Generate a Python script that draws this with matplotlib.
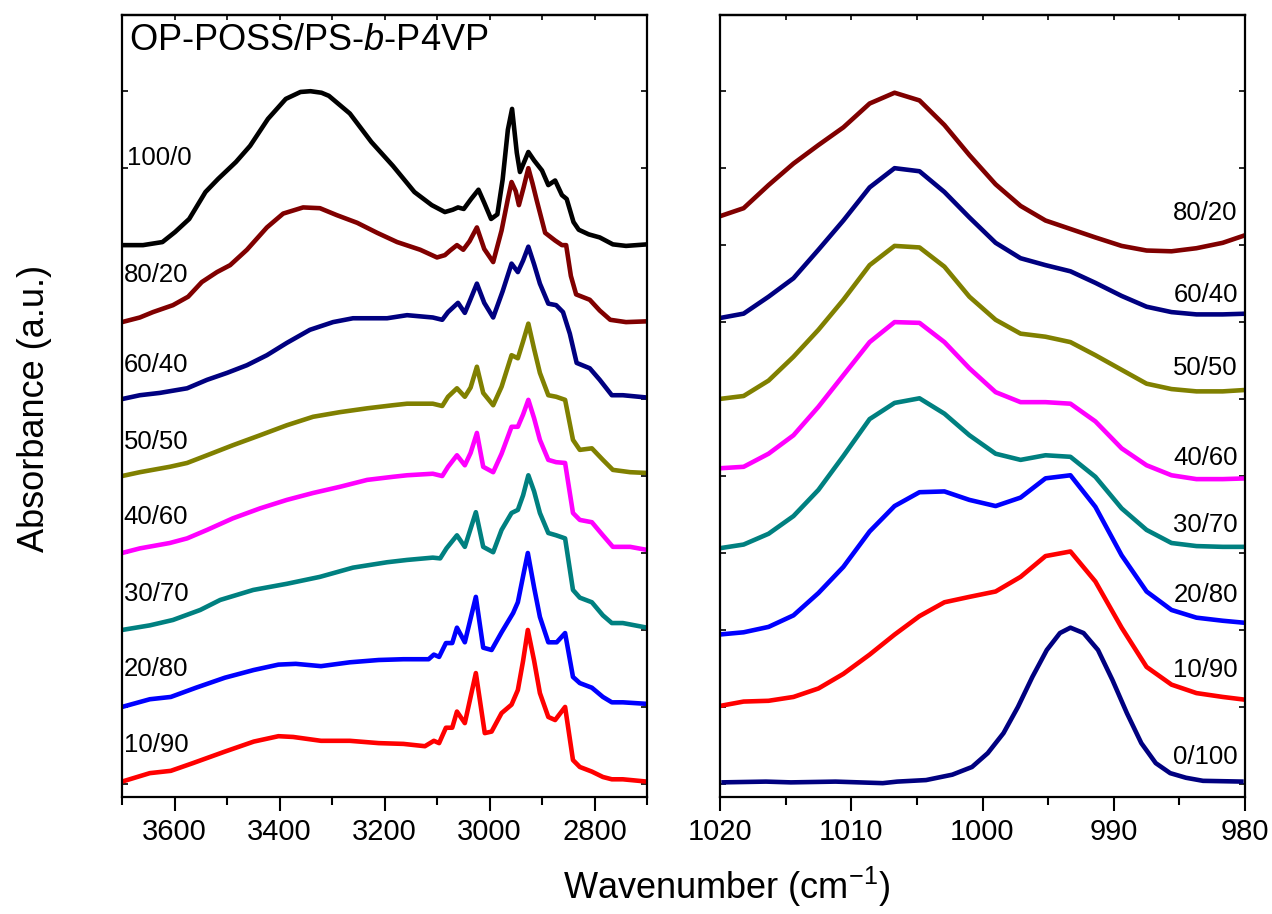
import matplotlib
matplotlib.use("Agg")
import matplotlib.pyplot as plt
from matplotlib.ticker import FixedLocator

plt.rcParams['font.family'] = ['Liberation Sans', 'DejaVu Sans']
plt.rcParams['mathtext.fontset'] = 'custom'
plt.rcParams['mathtext.rm'] = 'Liberation Sans'
plt.rcParams['mathtext.it'] = 'Liberation Sans:italic'

# ---------------- left panel data (C-H / O-H stretching region) ----------------
wn_100_0 = [3700, 3660, 3623, 3599, 3572, 3541, 3517, 3483, 3456, 3422, 3388, 3360, 3341, 3320, 3306,
            3266, 3225, 3184, 3143, 3110, 3085, 3070, 3060, 3049, 3035, 3021, 3010, 2997, 2985, 2975,
            2965, 2957, 2948, 2942, 2934, 2926, 2915, 2900, 2888, 2875, 2862, 2853, 2840, 2830, 2811,
            2790, 2765, 2740, 2700]
ab_100_0 = [7.0, 7.0, 7.04, 7.17, 7.34, 7.69, 7.86, 8.08, 8.29, 8.64, 8.90, 8.99, 9.0, 8.98, 8.94,
            8.71, 8.34, 8.03, 7.69, 7.52, 7.43, 7.46, 7.49, 7.47, 7.6, 7.72, 7.55, 7.34, 7.4, 7.85,
            8.5, 8.77, 8.2, 7.95, 8.08, 8.21, 8.1, 7.97, 7.78, 7.84, 7.65, 7.60, 7.3, 7.2, 7.14,
            7.10, 7.01, 6.99, 7.01]

wn_80_20 = [3700, 3666, 3641, 3603, 3574, 3548, 3519, 3494, 3462, 3424, 3393, 3355, 3323, 3291, 3252,
            3214, 3176, 3132, 3100, 3085, 3075, 3062, 3050, 3038, 3024, 3010, 2993, 2977, 2965, 2958,
            2950, 2944, 2935, 2926, 2918, 2910, 2894, 2875, 2862, 2854, 2845, 2835, 2809, 2790, 2770,
            2740, 2700]
ab_80_20 = [6.0, 6.06, 6.13, 6.22, 6.33, 6.52, 6.65, 6.74, 6.94, 7.23, 7.41, 7.49, 7.48, 7.39, 7.29,
            7.16, 7.04, 6.94, 6.84, 6.87, 6.93, 7.0, 6.94, 7.05, 7.23, 6.95, 6.78, 7.19, 7.6, 7.82,
            7.7, 7.52, 7.75, 8.0, 7.8, 7.58, 7.16, 7.06, 7.0, 7.0, 6.6, 6.36, 6.29, 6.15, 6.03,
            6.0, 6.01]

wn_60_40 = [3700, 3666, 3628, 3576, 3538, 3500, 3462, 3424, 3386, 3342, 3298, 3260, 3195, 3157, 3108,
            3090, 3079, 3060, 3047, 3036, 3024, 3010, 2993, 2975, 2958, 2946, 2936, 2926, 2915, 2904,
            2888, 2873, 2860, 2847, 2834, 2809, 2790, 2767, 2746, 2700]
ab_60_40 = [5.0, 5.05, 5.08, 5.14, 5.25, 5.34, 5.44, 5.57, 5.73, 5.90, 6.0, 6.05, 6.05, 6.09, 6.06,
            6.03, 6.13, 6.25, 6.12, 6.3, 6.5, 6.25, 6.06, 6.4, 6.76, 6.65, 6.8, 6.98, 6.75, 6.5,
            6.24, 6.22, 6.13, 5.85, 5.47, 5.40, 5.25, 5.05, 5.05, 5.02]

wn_50_50 = [3700, 3666, 3609, 3576, 3538, 3489, 3437, 3386, 3336, 3285, 3233, 3184, 3157, 3108, 3090,
            3079, 3062, 3047, 3036, 3024, 3012, 2993, 2977, 2958, 2946, 2936, 2926, 2915, 2904, 2888,
            2873, 2856, 2841, 2828, 2805, 2784, 2765, 2732, 2700]
ab_50_50 = [4.0, 4.05, 4.12, 4.17, 4.27, 4.40, 4.53, 4.66, 4.77, 4.83, 4.88, 4.92, 4.94, 4.94, 4.91,
            5.03, 5.14, 5.03, 5.15, 5.42, 5.08, 4.92, 5.16, 5.57, 5.53, 5.75, 5.98, 5.65, 5.34, 5.05,
            5.03, 4.99, 4.47, 4.34, 4.36, 4.21, 4.08, 4.05, 4.04]

wn_40_60 = [3700, 3666, 3609, 3576, 3538, 3489, 3437, 3386, 3336, 3285, 3233, 3184, 3157, 3108, 3090,
            3079, 3062, 3047, 3036, 3024, 3012, 2993, 2977, 2958, 2946, 2936, 2926, 2915, 2904, 2888,
            2873, 2856, 2841, 2828, 2805, 2784, 2765, 2732, 2700]
ab_40_60 = [3.0, 3.06, 3.13, 3.19, 3.30, 3.45, 3.58, 3.69, 3.78, 3.86, 3.95, 3.99, 4.01, 4.03, 4.0,
            4.12, 4.27, 4.14, 4.3, 4.56, 4.12, 4.05, 4.29, 4.64, 4.64, 4.8, 4.99, 4.75, 4.47, 4.21,
            4.18, 4.17, 3.52, 3.43, 3.40, 3.23, 3.08, 3.08, 3.04]

wn_30_70 = [3700, 3647, 3603, 3551, 3513, 3450, 3386, 3323, 3260, 3195, 3157, 3108, 3094, 3082, 3062,
            3047, 3026, 3012, 2993, 2977, 2958, 2946, 2936, 2926, 2915, 2904, 2888, 2873, 2856, 2841,
            2828, 2805, 2784, 2767, 2746, 2700]
ab_30_70 = [2.0, 2.06, 2.13, 2.26, 2.39, 2.52, 2.6, 2.69, 2.81, 2.88, 2.91, 2.94, 2.93, 3.06, 3.23,
            3.08, 3.53, 3.08, 3.01, 3.3, 3.52, 3.56, 3.75, 4.01, 3.8, 3.52, 3.26, 3.23, 3.19, 2.52,
            2.42, 2.36, 2.19, 2.09, 2.09, 2.03]

wn_20_80 = [3700, 3647, 3607, 3559, 3504, 3449, 3402, 3369, 3321, 3266, 3211, 3164, 3116, 3106, 3096,
            3083, 3071, 3062, 3047, 3026, 3012, 2996, 2977, 2955, 2946, 2936, 2927, 2915, 2904, 2888,
            2872, 2856, 2841, 2828, 2805, 2784, 2767, 2746, 2700]
ab_20_80 = [1.0, 1.10, 1.13, 1.25, 1.38, 1.48, 1.55, 1.56, 1.53, 1.58, 1.61, 1.62, 1.62, 1.68, 1.65,
            1.83, 1.83, 2.03, 1.84, 2.43, 1.77, 1.74, 1.97, 2.22, 2.36, 2.7, 3.0, 2.55, 2.17, 1.84,
            1.84, 1.96, 1.39, 1.31, 1.25, 1.13, 1.06, 1.06, 1.04]

wn_10_90 = [3700, 3647, 3607, 3565, 3504, 3449, 3402, 3374, 3321, 3266, 3211, 3164, 3123, 3106, 3096,
            3083, 3071, 3062, 3047, 3026, 3009, 2996, 2977, 2958, 2946, 2936, 2927, 2915, 2904, 2888,
            2875, 2856, 2841, 2828, 2805, 2784, 2767, 2746, 2700]
ab_10_90 = [0.03, 0.14, 0.17, 0.27, 0.42, 0.55, 0.62, 0.61, 0.56, 0.56, 0.53, 0.52, 0.49, 0.56, 0.53,
            0.73, 0.73, 0.94, 0.79, 1.44, 0.66, 0.68, 0.92, 1.03, 1.22, 1.6, 2.0, 1.6, 1.18, 0.87,
            0.83, 1.0, 0.31, 0.22, 0.16, 0.09, 0.06, 0.06, 0.03]

# ---------------- right panel data (pyridine ring region) ----------------
wn_right = [1020.1, 1018.2, 1016.3, 1014.4, 1012.5, 1010.6, 1008.6, 1006.7, 1004.8, 1002.9, 1001.0,
            999.0, 997.1, 995.2, 993.3, 991.4, 989.4, 987.5, 985.6, 983.7, 981.7, 979.8]
r_80_20 = [7.37, 7.48, 7.78, 8.06, 8.30, 8.53, 8.84, 8.98, 8.88, 8.56, 8.17, 7.79, 7.51, 7.32, 7.21,
           7.10, 6.99, 6.93, 6.92, 6.96, 7.03, 7.14]
r_60_40 = [6.05, 6.11, 6.33, 6.57, 6.94, 7.32, 7.75, 8.0, 7.96, 7.69, 7.36, 7.03, 6.83, 6.74, 6.66,
           6.51, 6.34, 6.20, 6.13, 6.10, 6.10, 6.11]
r_50_50 = [5.0, 5.04, 5.24, 5.55, 5.90, 6.29, 6.74, 6.99, 6.97, 6.72, 6.33, 6.03, 5.85, 5.81, 5.74,
           5.57, 5.38, 5.20, 5.13, 5.10, 5.10, 5.12]
r_40_60 = [4.10, 4.12, 4.29, 4.53, 4.90, 5.31, 5.74, 6.0, 5.99, 5.74, 5.40, 5.09, 4.96, 4.96, 4.94,
           4.71, 4.36, 4.14, 4.01, 3.96, 3.96, 3.97]
r_30_70 = [3.06, 3.11, 3.25, 3.48, 3.82, 4.26, 4.74, 4.95, 5.01, 4.81, 4.53, 4.29, 4.21, 4.27, 4.25,
           3.99, 3.58, 3.30, 3.13, 3.09, 3.08, 3.08]
r_20_80 = [1.94, 1.97, 2.04, 2.19, 2.48, 2.82, 3.28, 3.61, 3.79, 3.80, 3.69, 3.61, 3.72, 3.97, 4.01,
           3.60, 2.97, 2.50, 2.26, 2.16, 2.12, 2.09]
r_10_90 = [1.01, 1.07, 1.08, 1.13, 1.24, 1.43, 1.68, 1.94, 2.18, 2.36, 2.43, 2.50, 2.69, 2.96, 3.02,
           2.63, 2.03, 1.52, 1.29, 1.18, 1.13, 1.09]
wn_0_100 = [1019.9, 1016.5, 1014.6, 1011.2, 1007.6, 1006.5, 1004.3, 1002.3, 1000.8, 999.6, 998.4,
            997.3, 996.2, 995.1, 994.1, 993.3, 992.3, 991.2, 990.1, 989.0, 987.9, 986.8, 985.7,
            984.5, 983.2, 980.1]
r_0_100 = [0.02, 0.03, 0.02, 0.03, 0.01, 0.03, 0.05, 0.12, 0.22, 0.40, 0.66, 1.0, 1.39, 1.74, 1.96,
           2.03, 1.96, 1.74, 1.35, 0.92, 0.53, 0.27, 0.14, 0.08, 0.04, 0.03]

labels_left = ['100/0', '80/20', '60/40', '50/50', '40/60', '30/70', '20/80', '10/90']
label_y_left = [8.13, 6.61, 5.44, 4.44, 3.47, 2.47, 1.49, 0.51]
labels_right = ['80/20', '60/40', '50/50', '40/60', '30/70', '20/80', '10/90', '0/100']
label_y_right = [7.42, 6.35, 5.40, 4.23, 3.36, 2.45, 1.48, 0.35]

colors = {'100/0': '#000000', '80/20': '#800000', '60/40': '#000080', '50/50': '#808000',
          '40/60': '#FF00FF', '30/70': '#008080', '20/80': '#0000FF', '10/90': '#FF0000',
          '0/100': '#000080'}

left_series = [('100/0', wn_100_0, ab_100_0), ('80/20', wn_80_20, ab_80_20),
               ('60/40', wn_60_40, ab_60_40), ('50/50', wn_50_50, ab_50_50),
               ('40/60', wn_40_60, ab_40_60), ('30/70', wn_30_70, ab_30_70),
               ('20/80', wn_20_80, ab_20_80), ('10/90', wn_10_90, ab_10_90)]
right_series = [('80/20', wn_right, r_80_20), ('60/40', wn_right, r_60_40),
                ('50/50', wn_right, r_50_50), ('40/60', wn_right, r_40_60),
                ('30/70', wn_right, r_30_70), ('20/80', wn_right, r_20_80),
                ('10/90', wn_right, r_10_90), ('0/100', wn_0_100, r_0_100)]

W, H = 1272, 914
fig = plt.figure(figsize=(W / 100, H / 100), dpi=100)
axL = fig.add_axes([122 / W, 1 - 797 / H, 525 / W, 782 / H])
axR = fig.add_axes([720 / W, 1 - 797 / H, 525 / W, 782 / H])

LW = 3.3
for name, x, y in left_series:
    axL.plot(x, y, color=colors[name], lw=LW, solid_joinstyle='round', solid_capstyle='butt')
for name, x, y in right_series:
    axR.plot(x, y, color=colors[name], lw=LW, solid_joinstyle='round', solid_capstyle='butt')

FS_LAB = 18.5
for name, yy in zip(labels_left, label_y_left):
    xx = 3690 if name == '100/0' else 3697
    axL.text(xx, yy, name, ha='left', va='center', fontsize=FS_LAB)
for name, yy in zip(labels_right, label_y_right):
    axR.text(980.55, yy, name, ha='right', va='center', fontsize=FS_LAB)

axL.text(0.013, 0.968, 'OP-POSS/PS-$b$-P4VP', transform=axL.transAxes,
         ha='left', va='center', fontsize=26)

YLIM = (-0.17, 9.99)
for ax, xl, major, minor, top in [(axL, (3700, 2700), [3600, 3400, 3200, 3000, 2800],
                                   [3700, 3500, 3300, 3100, 2900, 2700], 100),
                                  (axR, (1020, 980), [1020, 1010, 1000, 990, 980],
                                   [1015, 1005, 995, 985], 5)]:
    ax.set_xlim(*xl)
    ax.set_ylim(*YLIM)
    ax.xaxis.set_major_locator(FixedLocator(major))
    ax.xaxis.set_minor_locator(FixedLocator(minor))
    ax.yaxis.set_major_locator(FixedLocator(list(range(0, 10))))
    ax.set_yticklabels([])
    ax.tick_params(axis='x', which='major', direction='out', length=10, width=1.5,
                   labelsize=21, pad=5, top=False)
    ax.tick_params(axis='x', which='minor', direction='out', length=5.5, width=1.5, top=False)
    ax.tick_params(axis='y', which='major', direction='in', length=4, width=1.2,
                   left=True, right=True)
    for sp in ax.spines.values():
        sp.set_linewidth(1.6)
    sec = ax.secondary_xaxis('top')
    lo, hi = min(xl), max(xl)
    sec.xaxis.set_major_locator(FixedLocator([v for v in range(int(lo), int(hi) + 1, top)]))
    sec.tick_params(axis='x', direction='in', length=3.5, width=1.2, labeltop=False)
    sec.spines['top'].set_linewidth(1.6)

fig.text(35 / W, 1 - 408 / H, 'Absorbance (a.u.)', rotation=90, ha='center', va='center',
         fontsize=26)
fig.text(727 / W, 1 - 887 / H, 'Wavenumber (cm$^{\\mathrm{-1}}$)', ha='center', va='center',
         fontsize=26)

fig.savefig('out.png', dpi=100)
